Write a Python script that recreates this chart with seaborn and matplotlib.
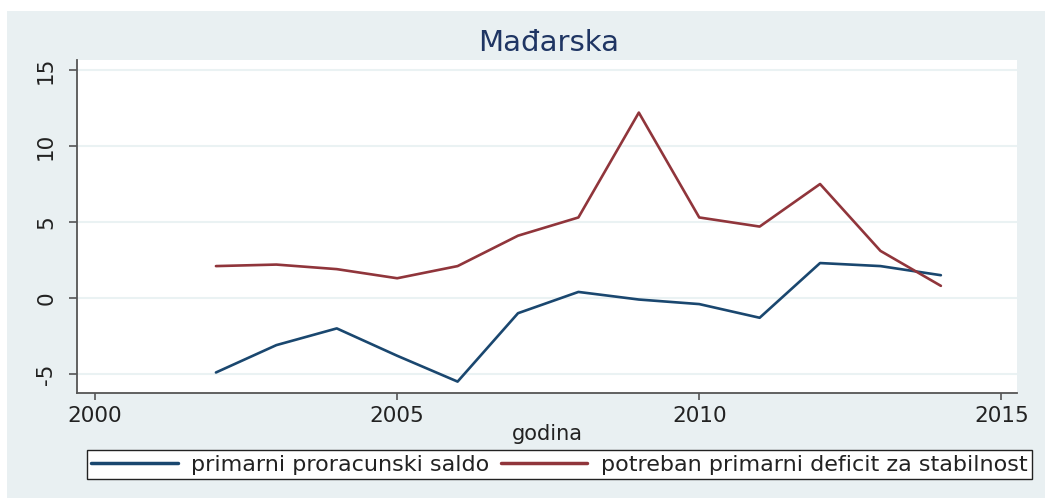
import matplotlib
matplotlib.use("Agg")
import matplotlib.pyplot as plt
import matplotlib.patches as mpatches
import seaborn as sns
import pandas as pd

years = [2002, 2003, 2004, 2005, 2006, 2007, 2008, 2009, 2010, 2011, 2012, 2013, 2014]
saldo = [-4.9, -3.1, -2.0, -3.8, -5.5, -1.0, 0.4, -0.1, -0.4, -1.3, 2.3, 2.1, 1.5]
deficit = [2.1, 2.2, 1.9, 1.3, 2.1, 4.1, 5.3, 12.2, 5.3, 4.7, 7.5, 3.1, 0.8]
label_saldo = "primarni proracunski saldo"
label_deficit = "potreban primarni deficit za stabilnost"
title = "Mađarska"
xlabel = "godina"
xticks = [2000, 2005, 2010, 2015]
yticks = [-5, 0, 5, 10, 15]

df = pd.DataFrame({"godina": years, "saldo": saldo, "deficit": deficit})

sns.set_theme(style="white")
plt.rcParams["font.family"] = ["DejaVu Sans"]

W, H = 1045, 498
fig = plt.figure(figsize=(W / 100, H / 100), dpi=100, facecolor="white")
bg = "#e9f0f2"
fig.patches.append(mpatches.Rectangle((7 / W, 0), 1 - 7 / W, 1 - 11 / H,
                                      transform=fig.transFigure, facecolor=bg,
                                      edgecolor="none", zorder=-5))

ax = fig.add_axes([77 / W, 1 - 393 / H, (1017 - 77) / W, (393 - 60) / H])
ax.set_zorder(2)
ax.set_facecolor("white")

navy = "#1a476f"
maroon = "#90353b"
sns.lineplot(data=df, x="godina", y="saldo", ax=ax, color=navy, lw=1.9, label=label_saldo)
sns.lineplot(data=df, x="godina", y="deficit", ax=ax, color=maroon, lw=1.9, label=label_deficit)

ax.set_xlim(1999.70, 2015.26)
ax.set_ylim(-6.25, 15.66)
ax.set_xticks(xticks)
ax.set_yticks(yticks)
ax.set_xticklabels([str(t) for t in xticks])
ax.set_yticklabels([str(t) for t in yticks])
ax.grid(axis="y", color="#eaf2f3", lw=1.5)
ax.grid(axis="x", visible=False)
ax.set_axisbelow(True)

for s in ["top", "right"]:
    ax.spines[s].set_visible(False)
for s in ["left", "bottom"]:
    ax.spines[s].set_color("#555555")
    ax.spines[s].set_linewidth(1.3)

ax.tick_params(axis="x", direction="out", length=5, width=1.2, color="#555555",
               labelsize=15.5, pad=4, labelcolor="#222222", bottom=True)
ax.tick_params(axis="y", direction="out", length=6, width=1.2, color="#555555",
               labelsize=15.5, pad=9, labelrotation=90, labelcolor="#222222", left=True)
for lbl in ax.get_yticklabels():
    lbl.set_va("center")

ax.set_xlabel(xlabel, fontsize=15, labelpad=-1, color="#222222")
ax.set_ylabel("")
fig.text(549 / W, 1 - 43 / H, title, ha="center", va="center", fontsize=21, color="#1f3563")

handles, labels = ax.get_legend_handles_labels()
if ax.get_legend() is not None:
    ax.get_legend().remove()
leg = fig.legend(handles, labels, loc="lower left", bbox_to_anchor=(87 / W, 19 / H),
                 ncol=2, fontsize=16, frameon=True, fancybox=False, borderaxespad=0,
                 handlelength=3.9, handletextpad=0.6, columnspacing=0.5,
                 borderpad=0.2)
frame = leg.get_frame()
frame.set_edgecolor("#222222")
frame.set_facecolor("white")
frame.set_alpha(1)
frame.set_linewidth(1.0)
for t in leg.get_texts():
    t.set_color("#222222")
for h in leg.get_lines():
    h.set_linewidth(2.5)

fig.savefig("out.png", dpi=100, facecolor=fig.get_facecolor())
